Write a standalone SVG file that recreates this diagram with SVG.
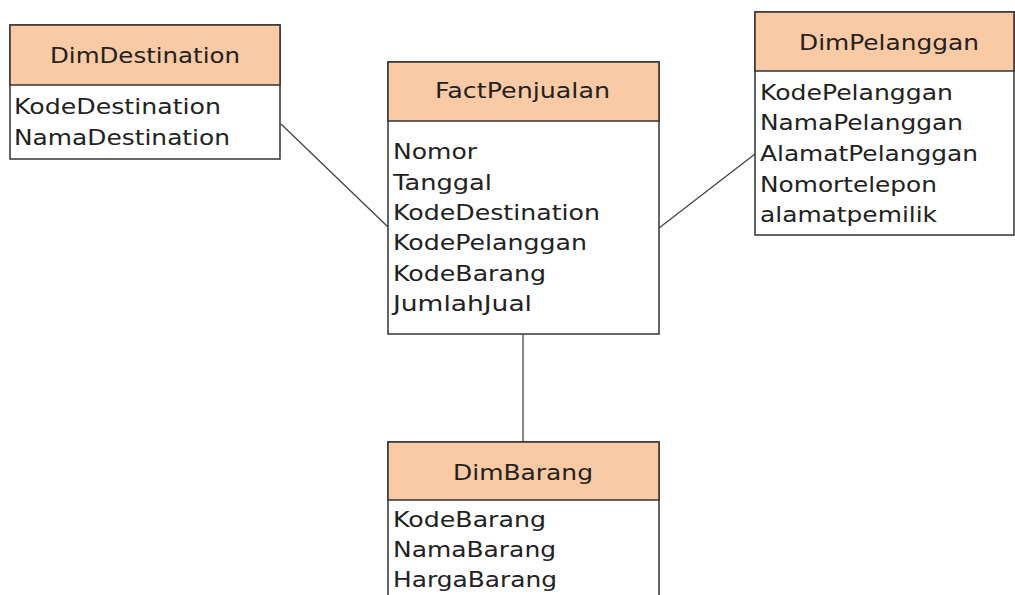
<svg xmlns="http://www.w3.org/2000/svg" width="1015" height="595" viewBox="0 0 1015 595">
<style>
.hd{fill:#F9CAA3;stroke:#333;stroke-width:1.5}
.bd{fill:#fff;stroke:#333;stroke-width:1.5}
.t{font-family:"DejaVu Sans","Verdana",sans-serif;font-size:22px;fill:#222}
.c{text-anchor:middle}
.ln{stroke:#444;stroke-width:1.3;fill:none}
</style>
<rect width="1015" height="595" fill="#fff"/>
<g id="connectors">
<line class="ln" x1="281" y1="124" x2="388" y2="227"/>
<line class="ln" x1="659" y1="228" x2="755" y2="154"/>
<line class="ln" x1="523" y1="334" x2="523" y2="442"/>
</g>
<g id="DimDestination">
<rect class="bd" x="10" y="25" width="270" height="134"/>
<rect class="hd" x="10" y="25" width="270" height="60"/>
<text class="t c" x="145" y="63" textLength="190" lengthAdjust="spacingAndGlyphs">DimDestination</text>
<text class="t" x="14" y="114" textLength="207" lengthAdjust="spacingAndGlyphs">KodeDestination</text>
<text class="t" x="14" y="145" textLength="216" lengthAdjust="spacingAndGlyphs">NamaDestination</text>
</g>
<g id="FactPenjualan">
<rect class="bd" x="388" y="62" width="271" height="272"/>
<rect class="hd" x="388" y="62" width="271" height="59"/>
<text class="t c" x="522.5" y="98" textLength="175" lengthAdjust="spacingAndGlyphs">FactPenjualan</text>
<text class="t" x="393" y="159" textLength="84" lengthAdjust="spacingAndGlyphs">Nomor</text>
<text class="t" x="393" y="189.5" textLength="99" lengthAdjust="spacingAndGlyphs">Tanggal</text>
<text class="t" x="393" y="220" textLength="207" lengthAdjust="spacingAndGlyphs">KodeDestination</text>
<text class="t" x="393" y="250" textLength="194" lengthAdjust="spacingAndGlyphs">KodePelanggan</text>
<text class="t" x="393" y="280.5" textLength="153" lengthAdjust="spacingAndGlyphs">KodeBarang</text>
<text class="t" x="393" y="311" textLength="139" lengthAdjust="spacingAndGlyphs">JumlahJual</text>
</g>
<g id="DimPelanggan">
<rect class="bd" x="755" y="12" width="259" height="223"/>
<rect class="hd" x="755" y="12" width="259" height="59"/>
<text class="t c" x="889" y="50" textLength="180" lengthAdjust="spacingAndGlyphs">DimPelanggan</text>
<text class="t" x="760" y="99.5" textLength="193" lengthAdjust="spacingAndGlyphs">KodePelanggan</text>
<text class="t" x="760" y="130" textLength="203" lengthAdjust="spacingAndGlyphs">NamaPelanggan</text>
<text class="t" x="760" y="161" textLength="218" lengthAdjust="spacingAndGlyphs">AlamatPelanggan</text>
<text class="t" x="760" y="191.5" textLength="177" lengthAdjust="spacingAndGlyphs">Nomortelepon</text>
<text class="t" x="760" y="221.5" textLength="177" lengthAdjust="spacingAndGlyphs">alamatpemilik</text>
</g>
<g id="DimBarang">
<rect class="bd" x="388" y="442" width="271" height="170"/>
<rect class="hd" x="388" y="442" width="271" height="58"/>
<text class="t c" x="523" y="480" textLength="140" lengthAdjust="spacingAndGlyphs">DimBarang</text>
<text class="t" x="393" y="526.5" textLength="153" lengthAdjust="spacingAndGlyphs">KodeBarang</text>
<text class="t" x="393" y="556.5" textLength="163" lengthAdjust="spacingAndGlyphs">NamaBarang</text>
<text class="t" x="393" y="586.5" textLength="164" lengthAdjust="spacingAndGlyphs">HargaBarang</text>
</g>
</svg>
